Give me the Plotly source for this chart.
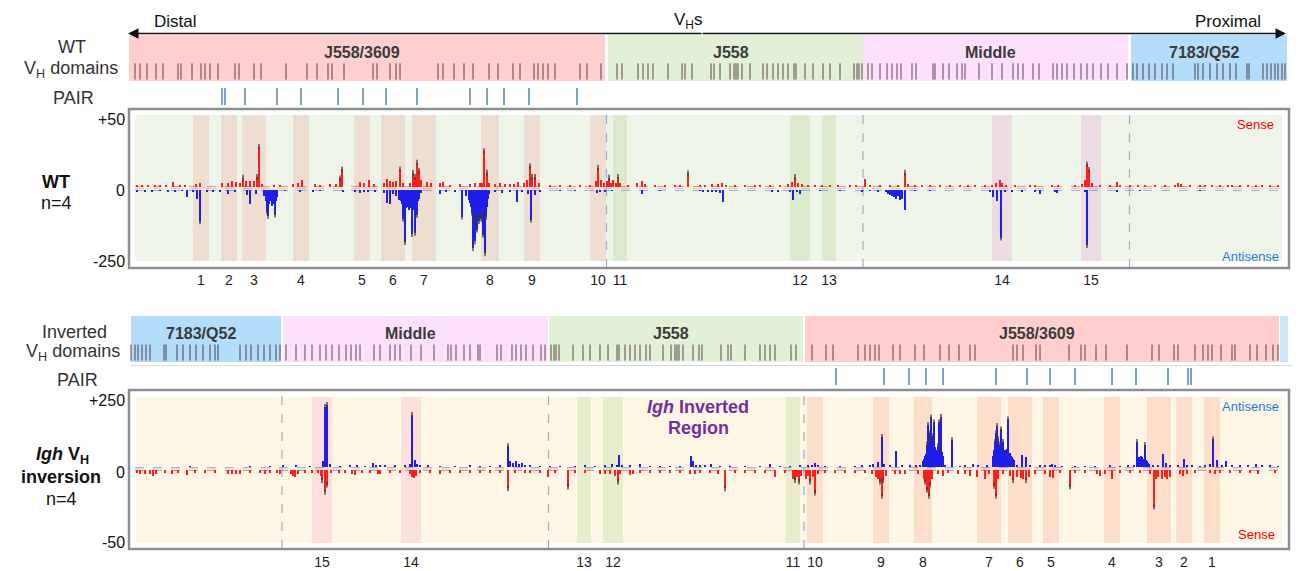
import plotly.graph_objects as go

W, H = 1299, 571
FONT = "Liberation Sans, Arial, sans-serif"

# ------------------------------------------------------------------
# Igh VH locus; positions in kb from the distal end (WT orientation)
# ------------------------------------------------------------------
WT_DOMAINS = ["J558/3609", "J558", "Middle", "7183/Q52"]
WT_DOMAIN_START = [-2, 958, 1468, 2004]
WT_DOMAIN_END = [952, 1468, 1998, 2316]

INV_DOMAINS = ["7183/Q52", "Middle", "J558", "J558/3609", "proximal"]
INV_DOMAIN_START = [4, 308, 840, 1352, 2302]
INV_DOMAIN_END = [304, 838, 1348, 2300, 2318]

DOMAIN_COLORS = {"J558/3609": "#FFCFCF", "J558": "#E2F0D5", "Middle": "#FCE0FC",
                 "7183/Q52": "#B3DDFA", "proximal": "#CBE8FB"}

# the inversion maps a WT position p onto INV_AXIS - p
INV_AXIS = 2310

VH_GENES = [
    12, 22, 36, 54, 68, 98, 104, 126, 144, 152, 162, 178, 212, 220, 250, 264, 314, 356,
    376, 398, 406, 430, 488, 496, 522, 534, 542, 618, 628, 650, 670, 688, 720, 738, 768,
    782, 810, 818, 828, 838, 852, 902, 916, 944,
    976, 986, 1018, 1028, 1038, 1048, 1078, 1106, 1112, 1126, 1164, 1170, 1182, 1202, 1210,
    1214, 1218, 1226, 1242, 1268, 1276, 1288, 1298, 1308, 1318, 1330, 1334, 1352, 1368,
    1388, 1402, 1422, 1450, 1456, 1460, 1466,
    1478, 1486, 1502, 1516, 1526, 1536, 1544, 1566, 1574, 1608, 1612, 1628, 1640, 1656,
    1666, 1672, 1700, 1726, 1746, 1768, 1778, 1788, 1808, 1820, 1848, 1856, 1866, 1876,
    1890, 1904, 1916, 1928, 1944, 1958, 1976, 1996,
    2008, 2016, 2028, 2040, 2052, 2066, 2076, 2088, 2132, 2138, 2148, 2162, 2176, 2188,
    2202, 2214, 2236, 2240, 2268, 2276, 2284, 2292, 2298, 2306, 2312,
]

PAIR_ELEMENTS = [186, 192, 232, 296, 344, 418, 468, 514, 576, 682, 716, 750, 800, 896]

# highlighted VH clusters 1-15
BAND_LABELS = ["1", "2", "3", "4", "5", "6", "7", "8", "9", "10", "11", "12", "13", "14", "15"]
BAND_START = [128, 184, 226, 328, 450, 504, 566, 704, 790, 922, 968, 1322, 1386, 1726, 1904]
BAND_END = [160, 216, 274, 360, 482, 552, 614, 740, 822, 954, 996, 1362, 1414, 1766, 1944]
BAND_GROUP = ["J558/3609"] * 10 + ["J558"] * 3 + ["Middle"] * 2

# ------------------------------------------------------------------
# WT, n=4 : sense reads (up) and antisense reads (down)
# ------------------------------------------------------------------
WT_SENSE_POS = [
    16, 26, 38, 52, 62, 74, 88, 102, 112, 134, 142, 186, 198, 206, 214, 222, 228, 234,
    242, 250, 256, 260, 266, 290, 302, 328, 338, 346, 372, 382, 402, 414, 422, 426,
    462, 470, 480, 490, 510, 516, 522, 528, 534, 542, 548, 562, 568, 572, 576, 580,
    584, 596, 604, 622, 628, 642, 662, 682, 692, 702, 706, 710, 716, 720, 732, 742,
    752, 762, 770, 778, 790, 796, 802, 806, 812, 820, 842, 862, 882, 902, 922, 934,
    938, 944, 950, 956, 960, 964, 968, 974, 978, 982, 998, 1016, 1026, 1032, 1052, 1072,
    1092, 1102, 1118, 1142, 1152, 1166, 1178, 1186, 1194, 1212, 1232, 1252, 1262, 1282,
    1302, 1318, 1326, 1332, 1338, 1346, 1358, 1372, 1386, 1402, 1418, 1442, 1454, 1472,
    1482, 1502, 1522, 1538, 1552, 1558, 1572, 1586, 1602, 1622, 1642, 1662, 1678, 1692,
    1712, 1726, 1734, 1742, 1746, 1754, 1772, 1802, 1812, 1846, 1858, 1892, 1906, 1912,
    1916, 1920, 1926, 1942, 1962, 1976, 1982, 2002, 2018, 2032, 2052, 2072, 2092, 2098,
    2104, 2122, 2142, 2152, 2166, 2182, 2198, 2206, 2222, 2238, 2254, 2266, 2282, 2298,
]
WT_SENSE_VAL = [
    1.5, 1, 1.5, 1, 1, 1.5, 3.3, 1, 1, 2, 2.5, 2.5, 3, 4, 3.5, 3, 6.5, 4,
    4.5, 4, 7, 28, 2, 1.5, 1.5, 2, 2.5, 4.6, 2, 1.5, 2, 2, 6, 12.3,
    3.6, 2.5, 4.6, 2, 3, 5.8, 4, 3.5, 4.5, 12.3, 2.5, 3, 10, 7, 17, 11,
    5, 3.5, 2.5, 2.5, 3.5, 1.5, 2, 2, 3, 2.5, 3, 25, 10, 3, 2, 2.5,
    2, 2, 2, 3.6, 3, 5, 14.6, 7, 7, 3, 1.5, 1.5, 1.5, 1.5, 1.5, 4,
    13.4, 5, 3, 4, 6.5, 3, 5, 3, 7, 3, 1.5, 2.5, 4, 2, 1, 1,
    1.5, 1, 9.5, 1, 1.5, 2, 2, 2.5, 1.5, 1.5, 1, 1.5, 1, 1.5,
    1.5, 2, 3.5, 7, 3, 2, 1.5, 1.5, 1, 1, 1, 1, 1, 5.8,
    1.5, 1, 1, 1.5, 10, 2, 1.5, 1.5, 1, 1.5, 1, 1, 1, 1,
    1, 1.5, 2.5, 4.6, 3, 1.5, 1, 1.5, 1, 1.5, 1, 1, 2, 5,
    15.8, 12, 3, 1, 1, 3.5, 1.5, 1.5, 1, 1, 1, 1, 1.5, 3,
    2, 1, 1, 1, 1.5, 1, 1.5, 1, 1, 1, 1, 1, 1, 1,
]
WT_ANTI_POS = [
    16, 32, 46, 62, 78, 92, 106, 116, 128, 136, 142, 156, 168, 182, 198, 212, 236, 242,
    254, 270, 274, 276, 278, 280, 282, 284, 286, 288, 290, 292, 294, 296, 312, 342,
    368, 382, 428, 452, 462, 470, 478, 492, 510, 516, 522, 528, 534, 540, 544, 546,
    548, 550, 552, 554, 556, 558, 560, 562, 564, 566, 568, 570, 572, 574, 576, 578,
    580, 584, 622, 634, 652, 666, 674, 680, 682, 684, 686, 688, 690, 692, 694, 696,
    698, 700, 702, 704, 706, 708, 710, 712, 714, 716, 718, 720, 732, 746, 762, 776,
    786, 798, 804, 812, 822, 862, 892, 936, 942, 952, 966, 1026, 1062, 1142, 1148, 1158,
    1166, 1174, 1182, 1188, 1286, 1298, 1322, 1328, 1336, 1342, 1382, 1422, 1466, 1482,
    1498, 1514, 1518, 1522, 1526, 1530, 1534, 1538, 1542, 1546, 1552, 1572, 1602, 1722,
    1728, 1736, 1744, 1752, 1766, 1786, 1812, 1822, 1852, 1856, 1912, 1916, 1976, 2022,
    2142,
]
WT_ANTI_VAL = [
    -4, -5, -4, -3, -5, -4, -3, -26, -4, -30, -111, -4, -8, -4, -15, -5, -18, -50,
    -14, -22, -40, -76, -92, -50, -35, -40, -55, -50, -45, -87, -40, -25, -3, -6,
    -6, -3, -4, -6, -9, -6, -8, -4, -10, -45, -51, -15, -20, -35, -40, -48,
    -102, -55, -184, -62, -60, -58, -70, -40, -65, -156, -62, -70, -151, -55, -88, -40,
    -30, -10, -13, -4, -5, -94, -20, -35, -45, -60, -80, -205, -120, -181, -100, -140,
    -95, -110, -100, -90, -105, -158, -80, -223, -95, -60, -30, -15, -4, -10, -8, -43,
    -5, -15, -105, -18, -6, -3, -3, -10, -8, -5, -3, -13, -2, -2, -4, -5,
    -6, -8, -10, -43, -4, -6, -8, -36, -6, -14, -3, -3, -4, -3,
    -4, -6, -14, -18, -20, -25, -30, -22, -35, -30, -70, -3, -2, -8,
    -23, -40, -168, -8, -4, -5, -5, -14, -5, -10, -5, -194, -6, -2,
    -2,
]

# ------------------------------------------------------------------
# Igh VH inversion, n=4 : antisense reads (up) and sense reads (down),
# positions along the inverted allele
# ------------------------------------------------------------------
INV_ANTI_POS = [
    122, 242, 282, 308, 334, 362, 388, 392, 396, 402, 422, 442, 456, 472, 488, 494, 502, 512,
    532, 552, 562, 566, 572, 576, 582, 598, 622, 652, 682, 702, 722, 742, 758, 762,
    768, 774, 780, 786, 792, 802, 822, 842, 862, 892, 912, 932, 952, 966, 976, 980,
    986, 1002, 1022, 1042, 1062, 1082, 1102, 1124, 1128, 1134, 1142, 1152, 1164, 1182, 1202, 1232,
    1262, 1282, 1302, 1322, 1342, 1358, 1366, 1372, 1378, 1392, 1422, 1452, 1466, 1482, 1488, 1498,
    1506, 1510, 1522, 1534, 1546, 1562, 1574, 1582, 1588, 1590, 1592, 1594, 1596, 1598, 1600, 1602,
    1604, 1606, 1608, 1610, 1612, 1614, 1616, 1618, 1620, 1622, 1624, 1626, 1628, 1632, 1646, 1662,
    1672, 1688, 1698, 1716, 1728, 1730, 1732, 1734, 1736, 1738, 1740, 1742, 1744, 1746, 1748, 1750,
    1752, 1754, 1756, 1758, 1760, 1762, 1764, 1766, 1768, 1770, 1776, 1786, 1794, 1802, 1822, 1832,
    1842, 1846, 1852, 1866, 1892, 1912, 1932, 1962, 1982, 1998, 2010, 2016, 2018, 2020, 2022, 2024,
    2026, 2028, 2030, 2032, 2034, 2036, 2038, 2040, 2048, 2058, 2068, 2074, 2082, 2098, 2110, 2116,
    2126, 2142, 2152, 2162, 2168, 2176, 2186, 2194, 2206, 2222, 2238, 2254, 2266, 2282, 2298,
]
INV_ANTI_VAL = [
    3, 3, 2, 4, 4, 3, 20, 215, 222, 10, 3, 4, 6, 3, 14, 6, 6, 5,
    4, 6, 10, 186, 25, 12, 6, 4, 3, 3, 4, 3, 3, 4, 75, 20,
    15, 20, 12, 15, 8, 5, 3, 3, 3, 3, 8, 3, 4, 12, 8, 43,
    6, 4, 10, 3, 3, 2, 3, 39, 20, 8, 6, 5, 10, 3, 3, 3,
    3, 12, 3, 3, 4, 5, 8, 16, 6, 3, 3, 3, 5, 6, 10, 18,
    108, 12, 4, 58, 8, 5, 4, 8, 20, 30, 39, 45, 80, 150, 100, 120,
    177, 110, 93, 160, 70, 60, 52, 75, 160, 110, 180, 55, 40, 6, 96, 3,
    4, 10, 4, 5, 40, 60, 90, 120, 147, 100, 80, 70, 135, 65, 90, 55,
    60, 50, 65, 170, 45, 50, 40, 35, 30, 25, 8, 43, 36, 4, 4, 6,
    8, 12, 5, 3, 3, 3, 3, 4, 3, 4, 6, 90, 30, 35, 35, 40,
    35, 30, 30, 79, 25, 20, 15, 12, 8, 5, 46, 15, 5, 6, 28, 8,
    4, 3, 6, 12, 99, 25, 4, 22, 6, 4, 4, 10, 4, 4, 3,
]
INV_SENSE_POS = [
    16, 22, 32, 42, 48, 54, 72, 86, 98, 116, 132, 152, 172, 198, 206, 214, 222, 242,
    262, 272, 282, 296, 302, 324, 328, 332, 338, 352, 366, 378, 384, 386, 392, 396,
    404, 420, 432, 446, 452, 466, 482, 498, 502, 522, 542, 562, 566, 570, 574, 582,
    602, 622, 642, 662, 682, 702, 722, 742, 758, 772, 792, 802, 822, 838, 852, 878,
    892, 912, 942, 952, 962, 972, 978, 982, 1002, 1008, 1022, 1042, 1062, 1082, 1102, 1122,
    1132, 1142, 1162, 1178, 1192, 1212, 1232, 1252, 1272, 1292, 1312, 1328, 1332, 1336, 1340, 1344,
    1354, 1358, 1362, 1368, 1372, 1378, 1392, 1412, 1432, 1452, 1472, 1486, 1494, 1498, 1502, 1506,
    1508, 1514, 1532, 1542, 1552, 1578, 1590, 1592, 1596, 1600, 1602, 1606, 1618, 1628, 1638, 1658,
    1672, 1682, 1696, 1712, 1720, 1730, 1734, 1738, 1748, 1762, 1768, 1776, 1784, 1788, 1794, 1800,
    1812, 1832, 1842, 1848, 1862, 1882, 1892, 1912, 1936, 1942, 1952, 1966, 1982, 2002, 2022, 2042,
    2050, 2054, 2058, 2066, 2072, 2076, 2082, 2102, 2108, 2116, 2132, 2162, 2172, 2182, 2202, 2222,
    2242, 2258, 2292,
]
INV_SENSE_VAL = [
    -2, -3, -2.5, -3, -4, -3, -2, -2.5, -2, -3.4, -2, -2, -2, -2.5, -3, -3, -2.5, -2,
    -2, -2.5, -2, -2, -3, -2.5, -4, -5, -3, -2, -2, -2, -4, -7, -15, -10,
    -2, -2, -2, -3, -3.5, -2, -2, -2.5, -3, -2, -2, -3, -4.5, -5.7, -4, -2,
    -2, -2.5, -2, -2, -2, -2, -2, -2, -12.6, -2, -2, -2, -2, -5, -2, -11.4,
    -2, -2, -2.5, -3, -3, -4, -8, -3, -3.5, -2.5, -2, -2, -2, -2, -2, -3,
    -2.5, -2, -2, -3, -12.6, -2, -2, -2, -2, -5, -2, -6, -7, -5, -8, -4,
    -6, -4, -8, -5, -15.5, -3, -2, -2, -2, -2, -2, -3, -5, -6, -8, -17.8,
    -7, -4, -3, -3, -3, -3, -6, -8, -13.7, -17.8, -10, -6, -3, -4, -2, -2.5,
    -3, -4, -5, -6, -3, -11, -17.6, -6, -3, -4, -7, -5, -5.5, -6.5, -7, -5,
    -3, -3, -5, -5.5, -2, -11.4, -2, -2, -3, -4, -3, -6, -2, -2, -2, -3,
    -25, -6, -5, -6, -5, -6, -5, -3, -4, -3, -2, -2, -3, -2, -2, -2,
    -2, -2.5, -2,
]

# ------------------------------------------------------------------
# page geometry helpers (pixel -> paper fractions)
# ------------------------------------------------------------------
def fx(px):
    return px / W


def fy(px):
    return 1 - px / H


def ydom(top_px, bottom_px):
    return [fy(bottom_px), fy(top_px)]


def inv(p):
    return INV_AXIS - p


def segments(xs, y0, y1):
    X, Y = [], []
    for v in xs:
        X += [v, v, None]
        Y += [y0, y1, None]
    return X, Y


def tips(pos, val, limit):
    keep = [(p, v) for p, v in zip(pos, val) if abs(v) >= limit]
    return [k[0] for k in keep], [k[1] for k in keep]


RED = "#FF1E1E"
BLUE = "#1E1EE8"
TIP = "#3A3A3A"
BAR_W = 3.6

fig = go.Figure()

# ---------------- domain rows ----------------
def domain_row(names, starts, ends, xa, ya, genes):
    fig.add_trace(go.Bar(
        x=[(s + e) / 2 for s, e in zip(starts, ends)],
        y=[1] * len(names), base=0,
        width=[e - s for s, e in zip(starts, ends)],
        marker=dict(color=[DOMAIN_COLORS[n] for n in names], line=dict(width=0)),
        xaxis=xa, yaxis=ya, hoverinfo="skip"))
    inside = [g for g in genes if any(s <= g <= e for s, e in zip(starts, ends))]
    gx, gy = segments(inside, 0.03, 0.38)
    fig.add_trace(go.Scatter(x=gx, y=gy, mode="lines",
                             line=dict(color="rgba(40,5,20,0.72)", width=1),
                             xaxis=xa, yaxis=ya, hoverinfo="skip"))


domain_row(WT_DOMAINS, WT_DOMAIN_START, WT_DOMAIN_END, "x", "y", VH_GENES)
domain_row(INV_DOMAINS, INV_DOMAIN_START, INV_DOMAIN_END, "x2", "y5",
           [inv(g) for g in VH_GENES])

# ---------------- PAIR elements ----------------
for xa, ya, pos in (("x", "y2", PAIR_ELEMENTS), ("x2", "y6", [inv(p) for p in PAIR_ELEMENTS])):
    px_, py_ = segments(pos, 0.0, 1.0)
    fig.add_trace(go.Scatter(x=px_, y=py_, mode="lines",
                             line=dict(color="#4574C6", width=1.4),
                             xaxis=xa, yaxis=ya, hoverinfo="skip"))

# ---------------- read-count bars ----------------
def bar_track(pos, val, color, xa, ya, limit):
    fig.add_trace(go.Bar(x=pos, y=val, width=BAR_W,
                         marker=dict(color=color, line=dict(width=0)),
                         xaxis=xa, yaxis=ya, hoverinfo="skip"))
    tx, ty = tips(pos, val, limit)
    fig.add_trace(go.Scatter(x=tx, y=ty, mode="markers",
                             marker=dict(symbol="line-ns", size=4,
                                         line=dict(color=TIP, width=1.3)),
                             xaxis=xa, yaxis=ya, hoverinfo="skip", cliponaxis=False))


bar_track(WT_SENSE_POS, WT_SENSE_VAL, RED, "x", "y3", 6)
bar_track(WT_ANTI_POS, WT_ANTI_VAL, BLUE, "x", "y4", 75)
bar_track(INV_ANTI_POS, INV_ANTI_VAL, BLUE, "x2", "y7", 75)
bar_track(INV_SENSE_POS, INV_SENSE_VAL, RED, "x2", "y8", 7)

# ---------------- shapes ----------------
shapes = []
TOP_INNER = (115, 261)
BOT_INNER = (397, 543)
TOP_FRAME = (109, 268)
BOT_FRAME = (390, 549)

shapes.append(dict(type="rect", xref="paper", yref="paper", layer="below",
                   x0=fx(135), x1=fx(1282), y0=fy(TOP_INNER[1]), y1=fy(TOP_INNER[0]),
                   fillcolor="#EFF4E9", line=dict(width=0)))
shapes.append(dict(type="rect", xref="paper", yref="paper", layer="below",
                   x0=fx(135), x1=fx(1282), y0=fy(BOT_INNER[1]), y1=fy(BOT_INNER[0]),
                   fillcolor="#FEF6E4", line=dict(width=0)))

WT_BAND_COLORS = {"J558/3609": "#EEDDD1", "J558": "#DCEBCC", "Middle": "#EDDDE3"}
INV_BAND_COLORS = {"J558/3609": "#FDDECB", "J558": "#E8EECB", "Middle": "#FDE0DB"}
for s, e, g in zip(BAND_START, BAND_END, BAND_GROUP):
    shapes.append(dict(type="rect", xref="x", yref="paper", layer="below",
                       x0=s, x1=e, y0=fy(TOP_INNER[1]), y1=fy(TOP_INNER[0]),
                       fillcolor=WT_BAND_COLORS[g], line=dict(width=0)))
    shapes.append(dict(type="rect", xref="x2", yref="paper", layer="below",
                       x0=inv(e), x1=inv(s), y0=fy(BOT_INNER[1]), y1=fy(BOT_INNER[0]),
                       fillcolor=INV_BAND_COLORS[g], line=dict(width=0)))

# dashed lines at domain boundaries
wt_bounds = [(WT_DOMAIN_END[i] + WT_DOMAIN_START[i + 1]) / 2 for i in range(3)]
inv_bounds = [(INV_DOMAIN_END[i] + INV_DOMAIN_START[i + 1]) / 2 for i in range(3)]
for b in wt_bounds:
    shapes.append(dict(type="line", xref="x", yref="paper", layer="below",
                       x0=b, x1=b, y0=fy(TOP_FRAME[1]), y1=fy(TOP_FRAME[0]),
                       line=dict(color="#9AAFC9", width=1.2, dash="dash")))
for b in inv_bounds:
    shapes.append(dict(type="line", xref="x2", yref="paper", layer="below",
                       x0=b, x1=b, y0=fy(BOT_FRAME[1]), y1=fy(BOT_FRAME[0]),
                       line=dict(color="#9AAFC9", width=1.2, dash="dash")))

# baselines
for ypx, col in ((186.5, "rgba(255,40,40,0.5)"), (188.5, "rgba(150,150,150,0.4)"),
                 (190.5, "rgba(60,60,220,0.4)"), (467.5, "rgba(60,60,220,0.4)"),
                 (469, "rgba(150,150,150,0.4)"), (470.5, "rgba(255,40,40,0.5)")):
    shapes.append(dict(type="line", xref="paper", yref="paper", layer="below",
                       x0=fx(135), x1=fx(1282), y0=fy(ypx), y1=fy(ypx),
                       line=dict(color=col, width=1, dash="dash")))

# panel frames and separator
for t, b in (TOP_FRAME, BOT_FRAME):
    shapes.append(dict(type="rect", xref="paper", yref="paper",
                       x0=fx(129), x1=fx(1289), y0=fy(b), y1=fy(t),
                       line=dict(color="#8E8E8E", width=2.5), fillcolor="rgba(0,0,0,0)"))
shapes.append(dict(type="line", xref="paper", yref="paper",
                   x0=fx(131), x1=fx(1292), y0=fy(365.5), y1=fy(365.5),
                   line=dict(color="#DCDCDC", width=1)))

# ---------------- annotations ----------------
ann = []


def text(x, y, s, size=18, color="#222", anchor="center", xref="paper", yref="paper", **kw):
    ann.append(dict(x=x, y=y, text=s, xref=xref, yref=yref, showarrow=False,
                    xanchor=anchor, yanchor="middle",
                    font=dict(family=FONT, size=size, color=color), **kw))


# orientation arrow
ann.append(dict(x=fx(128), y=fy(33.5), xref="paper", yref="paper", text="", showarrow=True,
                ax=575, ay=0, arrowhead=2, arrowsize=1.5, arrowwidth=1.4, arrowcolor="#111"))
ann.append(dict(x=fx(1286), y=fy(33.5), xref="paper", yref="paper", text="", showarrow=True,
                ax=-585, ay=0, arrowhead=2, arrowsize=1.5, arrowwidth=1.4, arrowcolor="#111"))
text(fx(176), fy(22), "Distal", 17, "#111")
text(fx(688), fy(21), "V<sub>H</sub>s", 17, "#111")
text(fx(1228), fy(22), "Proximal", 17, "#111")

# row labels
text(fx(72), fy(47), "WT", 18, "#333")
text(fx(71), fy(70), "V<sub>H</sub> domains", 18, "#333")
text(fx(73), fy(98), "PAIR", 18, "#333")
text(fx(56), fy(182), "<b>WT</b>", 18, "#111")
text(fx(56), fy(203), "n=4", 18, "#111")
text(fx(74), fy(332), "Inverted", 18, "#333")
text(fx(73), fy(352), "V<sub>H</sub> domains", 18, "#333")
text(fx(77), fy(380), "PAIR", 18, "#333")
text(fx(62), fy(455), "<b><i>Igh</i> V<sub>H</sub></b>", 18, "#111")
text(fx(61), fy(477), "<b>inversion</b>", 18, "#111")
text(fx(61), fy(499), "n=4", 18, "#111")

# value scale labels
for ypx, s in ((120, "+50"), (190, "0"), (261, "-250"), (400, "+250"), (472, "0"), (542, "-50")):
    text(fx(127), fy(ypx), s, 16, "#111", anchor="right")

# strand labels
text(fx(1276), fy(125), "Sense", 13, "#FF0000", anchor="right")
text(fx(1281), fy(256), "Antisense", 13, "#1F7FD2", anchor="right")
text(fx(1281), fy(406), "Antisense", 13, "#1F7FD2", anchor="right")
text(fx(1277), fy(534), "Sense", 13, "#FF0000", anchor="right")

text(fx(698), fy(407), "<b><i>Igh</i> Inverted</b>", 18, "#7030A0")
text(fx(698), fy(428), "<b>Region</b>", 18, "#7030A0")

# domain names
for names, starts, ends, xa, ya in ((WT_DOMAINS, WT_DOMAIN_START, WT_DOMAIN_END, "x", "y"),
                                    (INV_DOMAINS, INV_DOMAIN_START, INV_DOMAIN_END, "x2", "y5")):
    for n, s, e in zip(names, starts, ends):
        if n == "proximal":
            continue
        text((s + e) / 2, 0.61, "<b>%s</b>" % n, 16, "#3A3A3A", xref=xa, yref=ya, xshift=-5)

# ---------------- axes ----------------
band_mid = [(s + e) / 2 for s, e in zip(BAND_START, BAND_END)]
XDOM = [fx(129), fx(1289)]
X_RANGE = [0, 2320]


def xaxis(anchor, ticks_at):
    return dict(domain=XDOM, range=X_RANGE, anchor=anchor, showgrid=False, zeroline=False,
                showline=False, tickvals=ticks_at, ticktext=BAND_LABELS, ticks="outside",
                ticklen=6, tickcolor="rgba(0,0,0,0)", tickangle=0,
                tickfont=dict(family=FONT, size=14, color="#222"), fixedrange=True)


def yaxis(dom, rng, anchor):
    return dict(domain=dom, range=rng, anchor=anchor, visible=False, fixedrange=True)


fig.update_layout(
    width=W, height=H, margin=dict(l=0, r=0, t=0, b=0),
    paper_bgcolor="white", plot_bgcolor="rgba(0,0,0,0)",
    showlegend=False, barmode="overlay", bargap=0,
    font=dict(family=FONT, color="#222"),
    xaxis=xaxis("y4", band_mid),
    xaxis2=xaxis("y8", [inv(m) for m in band_mid]),
    yaxis=yaxis(ydom(34.5, 81), [0, 1], "x"),
    yaxis2=yaxis(ydom(88, 105), [0, 1], "x"),
    yaxis3=yaxis(ydom(115, 187), [0, 50], "x"),
    yaxis4=yaxis(ydom(190, 261), [-250, 0], "x"),
    yaxis5=yaxis(ydom(316, 362), [0, 1], "x2"),
    yaxis6=yaxis(ydom(368, 385), [0, 1], "x2"),
    yaxis7=yaxis(ydom(397, 467), [0, 250], "x2"),
    yaxis8=yaxis(ydom(470, 543), [-50, 0], "x2"),
    shapes=shapes, annotations=ann,
)

fig.write_html("out.html")
